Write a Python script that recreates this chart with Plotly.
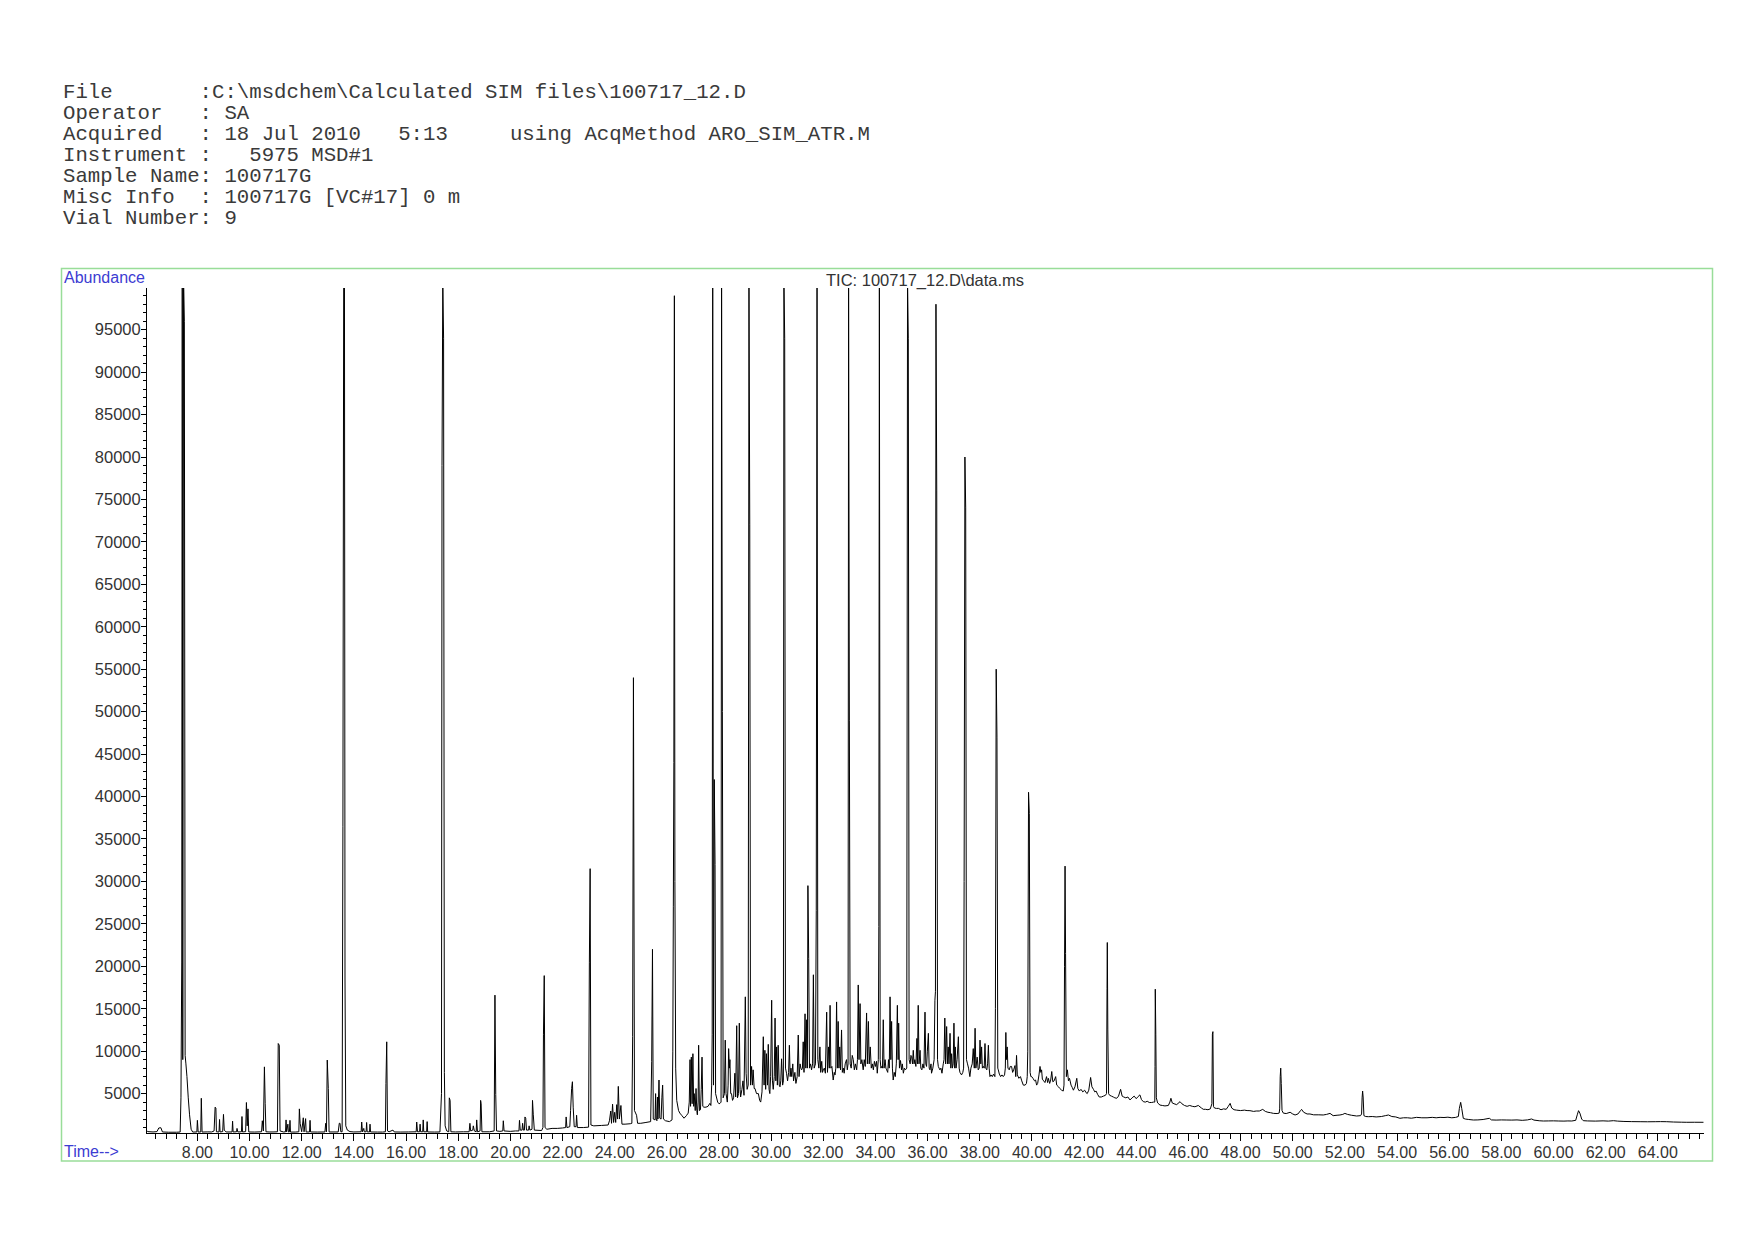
import plotly.graph_objects as go

# ---------------- data (retention time [min], abundance) ----------------
trace_early = [
    (6.05, 650), (6.10, 520), (6.30, 480), (6.45, 520), (6.52, 950), (6.60, 980), (6.66, 480),
    (6.90, 450), (7.20, 450), (7.34, 470), (7.37, 4500), (7.40, 20500), (7.42, 101000),
    (7.44, 9000), (7.47, 101000), (7.50, 96000), (7.53, 9500), (7.56, 8500), (7.60, 7000),
    (7.65, 4500), (7.70, 2500), (7.76, 800), (7.82, 470), (7.98, 480), (8.00, 1850), (8.03, 470),
    (8.13, 480), (8.15, 4450), (8.18, 470), (8.40, 490), (8.55, 480), (8.64, 600), (8.68, 3400),
    (8.71, 3300), (8.73, 500), (8.83, 480), (8.85, 1950), (8.87, 480), (8.97, 520), (9.00, 2550),
    (9.03, 700), (9.10, 480), (9.33, 480), (9.35, 1750), (9.37, 480), (9.50, 500), (9.52, 900),
    (9.55, 480), (9.69, 500), (9.71, 2300), (9.73, 480), (9.85, 520), (9.88, 3950), (9.91, 1200),
    (9.94, 3200), (9.97, 480), (10.20, 470), (10.46, 500), (10.49, 1800), (10.53, 600),
    (10.57, 8150), (10.60, 3800), (10.63, 500), (10.75, 480), (10.90, 480), (11.07, 500),
    (11.10, 10900), (11.14, 10700), (11.17, 600), (11.30, 480), (11.38, 500), (11.40, 1900),
    (11.42, 500), (11.47, 1400), (11.49, 480), (11.53, 500), (11.55, 1850), (11.57, 470),
    (11.75, 470), (11.89, 500), (11.91, 3200), (11.94, 1500), (12.00, 500), (12.06, 2150),
    (12.09, 500), (12.15, 2050), (12.17, 480), (12.30, 480), (12.32, 1850), (12.34, 480),
    (12.60, 470), (12.89, 480), (12.92, 1500), (12.95, 500), (12.98, 8950), (13.02, 5600),
    (13.05, 480), (13.40, 480), (13.44, 1500), (13.47, 1500), (13.50, 500), (13.55, 500),
    (13.58, 36500), (13.61, 101000), (13.64, 101000), (13.66, 18500), (13.69, 1200), (13.75, 700),
    (13.85, 520), (14.00, 480), (14.28, 500), (14.30, 1650), (14.33, 500), (14.38, 900),
    (14.40, 500), (14.47, 500), (14.49, 1600), (14.51, 500), (14.60, 480), (14.62, 1400),
    (14.64, 480), (14.90, 470), (15.10, 470), (15.21, 500), (15.23, 6200), (15.26, 11100),
    (15.29, 600), (15.35, 500), (15.50, 700), (15.55, 480), (15.80, 470), (16.10, 480),
    (16.39, 500), (16.41, 1650), (16.44, 500), (16.52, 500), (16.54, 1400), (16.56, 500),
    (16.64, 500), (16.66, 1900), (16.68, 500), (16.79, 500), (16.81, 1700), (16.83, 480),
    (17.10, 470), (17.30, 480), (17.36, 5000), (17.38, 79000), (17.41, 101000), (17.44, 94000),
    (17.47, 7500), (17.50, 1200), (17.56, 600), (17.64, 500), (17.66, 4500), (17.69, 4200),
    (17.72, 500), (17.90, 480), (18.20, 500), (18.42, 500), (18.45, 1500), (18.48, 600),
    (18.56, 700), (18.58, 1200), (18.62, 600), (18.69, 500), (18.71, 1900), (18.74, 500),
    (18.84, 600), (18.86, 4200), (18.88, 3800), (18.91, 500), (19.20, 500), (19.38, 600),
    (19.41, 16600), (19.44, 4900), (19.47, 600), (19.60, 550), (19.71, 600), (19.73, 1800),
    (19.76, 600), (20.00, 550), (20.20, 600), (20.33, 600), (20.35, 1850), (20.38, 700),
    (20.45, 700), (20.47, 1500), (20.50, 700), (20.54, 700), (20.56, 2250), (20.59, 2100),
    (20.62, 700), (20.70, 700), (20.72, 1200), (20.75, 700), (20.83, 800), (20.85, 4200),
    (20.88, 2500), (20.92, 700), (21.20, 650), (21.25, 1000), (21.27, 12000), (21.30, 18900),
    (21.33, 1000), (21.40, 800), (21.60, 900), (21.80, 900), (22.00, 950), (22.12, 1000),
    (22.14, 2250), (22.17, 1000), (22.28, 1100), (22.31, 3000), (22.35, 5600), (22.38, 6400),
    (22.41, 3400), (22.45, 1100), (22.52, 1100), (22.54, 2450), (22.57, 1000), (22.80, 1000),
    (23.00, 1050), (23.03, 20400), (23.06, 31500), (23.09, 1300), (23.20, 1200), (23.50, 1250),
    (23.75, 1300), (23.80, 1800), (23.85, 2950), (23.88, 1500), (23.92, 3750), (23.96, 1600),
    (24.00, 2800), (24.04, 1600), (24.08, 3700), (24.11, 2000), (24.14, 5850), (24.18, 2000),
    (24.24, 3600), (24.28, 1400), (24.40, 1400), (24.60, 1450), (24.66, 1500), (24.69, 11700),
    (24.72, 54000), (24.76, 3000), (24.84, 2450), (24.88, 1500),
]

trace_middle = [
    (25.00, 1500), (25.20, 1600), (25.38, 1700), (25.42, 8750), (25.45, 22000), (25.48, 2000),
    (25.55, 1900), (25.57, 5000), (25.59, 2000), (25.62, 1800), (25.64, 4600), (25.66, 2000),
    (25.70, 6600), (25.73, 2100), (25.78, 2000), (25.81, 4500), (25.84, 6000), (25.87, 2000),
    (25.95, 1800), (26.10, 1700), (26.20, 1900), (26.23, 10000), (26.25, 27000), (26.27, 44000),
    (26.29, 99000), (26.31, 30000), (26.34, 8000), (26.38, 4200), (26.45, 3000), (26.50, 2700),
    (26.58, 2400), (26.66, 2100), (26.75, 2400), (26.82, 2700), (26.86, 4000), (26.89, 9000),
    (26.91, 3500), (26.94, 9300), (26.97, 3800), (27.00, 9700), (27.03, 3500), (27.05, 5000),
    (27.09, 3000), (27.12, 5600), (27.15, 3000), (27.17, 2500), (27.20, 4000), (27.22, 10700),
    (27.25, 3000), (27.29, 3100), (27.32, 5500), (27.35, 9300), (27.38, 3500), (27.42, 3400),
    (27.50, 3400), (27.58, 3500), (27.65, 3850), (27.69, 3600), (27.72, 6000), (27.74, 12000),
    (27.76, 101000), (27.79, 6000), (27.82, 42000), (27.85, 32000), (27.87, 5000), (27.95, 4000),
    (28.00, 3800), (28.04, 3850), (28.08, 4000), (28.10, 101000), (28.13, 50000), (28.16, 4500),
    (28.21, 5000), (28.24, 11300), (28.27, 5000), (28.32, 4000), (28.35, 6000), (28.37, 10300),
    (28.40, 8000), (28.42, 9000), (28.45, 5000), (28.48, 5000), (28.52, 4200), (28.56, 4500),
    (28.61, 7400), (28.64, 4600), (28.68, 13000), (28.71, 4500), (28.75, 5000), (28.78, 13300),
    (28.81, 5500), (28.83, 4600), (28.88, 5500), (28.92, 6500), (28.96, 4800), (29.01, 16400),
    (29.04, 7400), (29.08, 5500), (29.12, 6000), (29.15, 101000), (29.18, 72000), (29.21, 6000),
    (29.25, 8200), (29.28, 6000), (29.31, 7800), (29.35, 5600), (29.38, 5600), (29.44, 5000),
    (29.51, 5000), (29.56, 4200), (29.60, 4000), (29.65, 5200), (29.70, 11700), (29.73, 6000),
    (29.76, 10100), (29.79, 5500), (29.82, 9700), (29.86, 6000), (29.89, 10800), (29.92, 5500),
    (29.95, 5000), (29.98, 7000), (30.02, 16000), (30.05, 6500), (30.08, 5500), (30.12, 7000),
    (30.15, 13900), (30.18, 6500), (30.21, 10500), (30.24, 6000), (30.27, 10700), (30.31, 6000),
    (30.34, 5800), (30.37, 6500), (30.40, 9100), (30.44, 6000), (30.47, 6500), (30.49, 101000),
    (30.52, 94000), (30.55, 8000), (30.59, 7400), (30.63, 6500), (30.67, 7500), (30.70, 10700),
    (30.73, 7000), (30.76, 8000), (30.79, 7000), (30.83, 8500), (30.86, 6500), (30.91, 7500),
    (30.95, 6200), (31.00, 7000), (31.04, 11900), (31.07, 7000), (31.11, 8500), (31.14, 8000),
    (31.17, 7800), (31.20, 8000), (31.23, 11100), (31.26, 7500), (31.30, 14400), (31.33, 8000),
    (31.36, 13700), (31.39, 8000), (31.41, 29500), (31.44, 20900), (31.47, 8000), (31.51, 8500),
    (31.55, 7800), (31.59, 8500), (31.62, 19000), (31.65, 8000), (31.70, 8500), (31.73, 26600),
    (31.76, 101000), (31.79, 9000), (31.83, 8000), (31.87, 10500), (31.90, 7500), (31.94, 8800),
    (31.97, 7500), (32.00, 7800), (32.04, 8000), (32.08, 7400), (32.13, 14600), (32.16, 7500),
    (32.20, 10500), (32.23, 8000), (32.26, 15400), (32.29, 8000), (32.33, 8200), (32.38, 6600),
    (32.42, 7500), (32.45, 7200), (32.48, 8000), (32.51, 15800), (32.54, 8000), (32.57, 13500),
    (32.60, 8000), (32.63, 10500), (32.66, 7800), (32.70, 12500), (32.73, 7500), (32.77, 8000),
    (32.80, 7400), (32.84, 8500), (32.89, 9000), (32.92, 7800), (32.95, 8500), (32.97, 101000),
    (33.00, 49000), (33.03, 8500), (33.07, 8000), (33.11, 9500), (33.15, 9000), (33.19, 7800),
    (33.23, 8500), (33.28, 7800), (33.31, 9000), (33.34, 17800), (33.37, 9000), (33.41, 15600),
    (33.44, 8500), (33.48, 9000), (33.53, 7800), (33.57, 9000), (33.61, 8200), (33.66, 14500),
    (33.69, 8500), (33.73, 13500), (33.76, 8500), (33.80, 10500), (33.84, 8000), (33.88, 8500),
    (33.92, 7800), (33.96, 8800), (34.00, 8200), (34.04, 8800), (34.07, 7400), (34.11, 9000),
    (34.13, 24700), (34.15, 101000), (34.18, 9000), (34.21, 8000), (34.24, 8200), (34.27, 8000),
    (34.30, 13700), (34.33, 8000), (34.37, 9000), (34.40, 8000), (34.43, 7800), (34.47, 7500),
    (34.50, 9000), (34.53, 8000), (34.56, 16400), (34.59, 9000), (34.62, 13500), (34.65, 8000),
    (34.68, 6600), (34.72, 7500), (34.76, 7000), (34.80, 8500), (34.84, 15400), (34.87, 9000),
    (34.89, 13300), (34.92, 8000), (34.96, 8900), (35.00, 7800), (35.03, 8500), (35.07, 7400),
    (35.11, 8000), (35.15, 7800), (35.20, 8000), (35.23, 101000), (35.26, 94000), (35.29, 9000),
    (35.33, 8500), (35.36, 9500), (35.39, 9350), (35.42, 8500), (35.45, 10100), (35.48, 8500),
    (35.51, 9000), (35.55, 8200), (35.59, 11500), (35.61, 8500), (35.64, 15400), (35.67, 8500),
    (35.71, 10100), (35.74, 8000), (35.78, 7800), (35.82, 8500), (35.86, 8000), (35.90, 14600),
    (35.93, 8500), (35.96, 8200), (35.99, 10000), (36.03, 12100), (36.06, 8000), (36.09, 7800),
    (36.13, 8500), (36.15, 7400), (36.20, 8000), (36.25, 9000), (36.28, 16000), (36.30, 17000),
    (36.32, 98000), (36.35, 76000), (36.38, 9000), (36.41, 8200), (36.44, 8000), (36.47, 7800),
    (36.51, 8000), (36.55, 7400), (36.60, 8500), (36.63, 9000), (36.66, 13900), (36.69, 8500),
    (36.73, 12900), (36.76, 8500), (36.79, 10500), (36.82, 8500), (36.86, 12100), (36.89, 8000),
    (36.92, 9700), (36.95, 8000), (36.98, 8500), (37.01, 13300), (37.04, 8000), (37.06, 10500),
    (37.09, 8000), (37.13, 9000), (37.18, 11700), (37.21, 8000), (37.24, 7500), (37.30, 7200),
    (37.35, 7500), (37.38, 8000), (37.40, 30000), (37.43, 80000), (37.46, 74000), (37.49, 9000),
    (37.53, 8500), (37.57, 8000), (37.62, 7000), (37.66, 8000), (37.71, 8500), (37.75, 10300),
    (37.79, 8000), (37.82, 12700), (37.85, 8000), (37.90, 9300), (37.94, 7800), (37.98, 8000),
    (38.01, 11300), (38.04, 8500), (38.07, 10500), (38.10, 8000), (38.14, 8200), (38.17, 8000),
    (38.20, 10900), (38.23, 8000), (38.27, 7800), (38.30, 8500), (38.33, 10700), (38.36, 8000),
    (38.39, 7000), (38.43, 7200), (38.48, 7000), (38.53, 7300), (38.58, 7000), (38.60, 15000),
    (38.63, 55000), (38.66, 47000), (38.69, 8000), (38.71, 7800), (38.75, 7300), (38.80, 7000),
    (38.85, 7200), (38.90, 7000), (38.95, 7200), (38.98, 8000), (39.00, 12200), (39.02, 9000),
    (39.05, 10500), (39.08, 8000), (39.13, 7800), (39.17, 8200), (39.22, 8200), (39.26, 7500),
    (39.30, 7800), (39.35, 8300), (39.38, 7000), (39.41, 9500), (39.44, 7200), (39.50, 6800),
    (39.56, 7000), (39.61, 6500), (39.67, 6000), (39.74, 6000), (39.79, 6200), (39.82, 7000),
    (39.84, 10000), (39.87, 40500), (39.90, 38000), (39.93, 7500), (39.96, 7000), (39.99, 7000),
    (40.04, 6800), (40.10, 6500), (40.14, 6600), (40.18, 6000), (40.22, 6200), (40.27, 7200),
    (40.31, 8200), (40.34, 7500), (40.37, 7800), (40.40, 6700), (40.45, 6500), (40.50, 6300),
    (40.56, 7000), (40.60, 6300), (40.63, 6800), (40.68, 6200), (40.72, 6600), (40.76, 7600),
    (40.80, 6400), (40.85, 6500), (40.91, 7000), (40.95, 6000), (41.02, 5800), (41.07, 5600),
    (41.14, 5400), (41.20, 5300),
]

trace_late = [
    (41.23, 6000), (41.25, 20000), (41.27, 31800), (41.29, 21500), (41.32, 7000), (41.36, 7800),
    (41.40, 6500), (41.44, 6800), (41.50, 6000), (41.55, 5700), (41.59, 5400), (41.65, 5800),
    (41.72, 6800), (41.76, 5600), (41.82, 5300), (41.88, 5500), (41.95, 5200), (42.02, 5400),
    (42.08, 5100), (42.12, 5000), (42.18, 5400), (42.25, 6900), (42.30, 5800), (42.36, 5500),
    (42.41, 5200), (42.46, 5300), (42.52, 4900), (42.58, 4600), (42.66, 4600), (42.74, 4700),
    (42.82, 4800), (42.86, 5000), (42.88, 17400), (42.89, 22800), (42.91, 12500), (42.94, 5000),
    (42.98, 4800), (43.05, 4700), (43.12, 4600), (43.18, 4500), (43.25, 4450), (43.32, 4700),
    (43.40, 5500), (43.46, 4700), (43.52, 4600), (43.60, 4500), (43.68, 4600), (43.76, 4250),
    (43.84, 4500), (43.92, 4700), (44.00, 4400), (44.07, 4650), (44.14, 4850), (44.20, 4300),
    (44.27, 4050), (44.35, 4000), (44.42, 4100), (44.50, 3950), (44.59, 3950), (44.66, 4000),
    (44.71, 4000), (44.72, 8200), (44.73, 17300), (44.75, 12000), (44.77, 4500), (44.82, 3900),
    (44.91, 3650), (45.00, 3600), (45.10, 3550), (45.23, 3600), (45.29, 4000), (45.33, 4450),
    (45.38, 3900), (45.45, 3800), (45.55, 3700), (45.68, 4050), (45.75, 3800), (45.85, 3600),
    (45.95, 3500), (46.05, 3600), (46.15, 3500), (46.25, 3450), (46.38, 3600), (46.50, 3300),
    (46.57, 3150), (46.65, 3150), (46.75, 3100), (46.84, 3200), (46.90, 3800), (46.92, 12000),
    (46.94, 12300), (46.96, 3500), (47.00, 3300), (47.08, 3250), (47.15, 3260), (47.25, 3100),
    (47.35, 3200), (47.45, 3150), (47.53, 3500), (47.60, 3850), (47.66, 3300), (47.75, 3100),
    (47.85, 3050), (48.00, 3000), (48.15, 3050), (48.25, 3000), (48.36, 2990), (48.50, 2900),
    (48.60, 2950), (48.72, 2950), (48.85, 3140), (48.95, 2900), (49.05, 2800), (49.15, 2750),
    (49.26, 2670), (49.40, 2650), (49.48, 2700), (49.50, 3200), (49.52, 7000), (49.54, 8000),
    (49.56, 6200), (49.59, 3000), (49.64, 2700), (49.75, 2650), (49.90, 2800), (50.00, 2600),
    (50.09, 2480), (50.20, 2600), (50.30, 3000), (50.34, 3140), (50.42, 2800), (50.55, 2600),
    (50.66, 2600), (50.80, 2500), (51.00, 2500), (51.17, 2480), (51.30, 2550), (51.43, 2670),
    (51.55, 2400), (51.70, 2450), (51.81, 2480), (51.92, 2550), (52.00, 2670), (52.10, 2550),
    (52.25, 2450), (52.45, 2360), (52.60, 2400), (52.64, 2600), (52.66, 4500), (52.68, 5300),
    (52.70, 4600), (52.73, 2400), (52.80, 2300), (52.90, 2280), (53.05, 2300), (53.20, 2250),
    (53.40, 2300), (53.55, 2400), (53.67, 2480), (53.80, 2300), (53.95, 2250), (54.11, 2090),
    (54.25, 2150), (54.40, 2150), (54.55, 2100), (54.75, 2200), (54.95, 2150), (55.15, 2150),
    (55.35, 2200), (55.50, 2150), (55.65, 2200), (55.80, 2180), (55.95, 2220), (56.10, 2150),
    (56.25, 2200), (56.35, 2300), (56.39, 3260), (56.44, 3970), (56.48, 3260), (56.54, 2090),
    (56.62, 2000), (56.75, 1950), (56.93, 1890), (57.10, 1900), (57.30, 1950), (57.54, 2090),
    (57.62, 1900), (57.80, 1880), (58.00, 1900), (58.21, 1890), (58.40, 1880), (58.60, 1900),
    (58.80, 1850), (59.00, 1900), (59.16, 2010), (59.25, 1880), (59.45, 1800), (59.61, 1770),
    (59.80, 1780), (60.00, 1790), (60.20, 1770), (60.40, 1760), (60.55, 1780), (60.70, 1770),
    (60.85, 1850), (60.91, 2500), (60.96, 2990), (61.01, 2700), (61.08, 2000), (61.14, 1810),
    (61.30, 1780), (61.60, 1760), (61.90, 1790), (62.10, 1760), (62.30, 1810), (62.45, 1760),
    (62.70, 1720), (63.00, 1700), (63.32, 1690), (63.60, 1680), (63.90, 1690), (64.10, 1700),
    (64.34, 1690), (64.60, 1650), (64.90, 1630), (65.11, 1620), (65.40, 1625), (65.75, 1620),
]

header_lines = [
    r"File       :C:\msdchem\Calculated SIM files\100717_12.D",
    r"Operator   : SA",
    r"Acquired   : 18 Jul 2010   5:13     using AcqMethod ARO_SIM_ATR.M",
    r"Instrument :   5975 MSD#1",
    r"Sample Name: 100717G",
    r"Misc Info  : 100717G [VC#17] 0 m",
    r"Vial Number: 9",
]
plot_title = r"TIC: 100717_12.D\data.ms"
y_label = "Abundance"
x_label = "Time-->"

x_range = [6.068, 65.77]
y_range = [358, 99910]

# ---------------- figure ----------------
points = trace_early + trace_middle + trace_late
times = [p[0] for p in points]
abund = [p[1] for p in points]

# the page body adds an 8 px margin; the figure is sized/offset to compensate
OFF = 8
W, H = 1754 - 2 * OFF, 1240 - 2 * OFF
L = 147 - OFF
T = 288 - OFF
R = W - (1704 - OFF)
B = H - (1133 - OFF)
PW = W - L - R
PH = H - T - B


def px(x_page):
    return (x_page - OFF - L) / PW


def py(y_page):
    return (H - B - (y_page - OFF)) / PH


fig = go.Figure()
fig.add_trace(go.Scatter(
    x=times, y=abund, mode="lines",
    line=dict(color="black", width=1, simplify=False),
    hoverinfo="skip", showlegend=False,
))

sans = "Liberation Sans, Arial, sans-serif"
mono = "Liberation Mono, Courier New, monospace"
blue = "#3c3cd2"

annotations = []
for i, line in enumerate(header_lines):
    annotations.append(dict(
        x=px(60.5), y=py(92.8 + i * 20.9), xref="paper", yref="paper",
        xanchor="left", yanchor="middle", showarrow=False,
        text=line.replace(" ", "\u00a0"),
        font=dict(family=mono, size=20.7, color="#3a3a3a"),
    ))
annotations.append(dict(
    x=px(61.5), y=py(278), xref="paper", yref="paper", xanchor="left", yanchor="middle",
    showarrow=False, text=y_label, font=dict(family=sans, size=16, color=blue)))
annotations.append(dict(
    x=px(61.5), y=py(1151), xref="paper", yref="paper", xanchor="left", yanchor="middle",
    showarrow=False, text=x_label, font=dict(family=sans, size=16, color=blue)))
annotations.append(dict(
    x=px(925), y=py(280), xref="paper", yref="paper", xanchor="center", yanchor="middle",
    showarrow=False, text=plot_title, font=dict(family=sans, size=16.5, color="#333333")))

fig.update_layout(
    width=W, height=H,
    margin=dict(l=L, r=R, t=T, b=B, pad=0),
    paper_bgcolor="white", plot_bgcolor="white",
    annotations=annotations,
    shapes=[dict(type="rect", xref="paper", yref="paper",
                 x0=px(61.5), x1=px(1712.5), y0=py(1161), y1=py(268.5),
                 line=dict(color="#99dd99", width=1.5), layer="below")],
    showlegend=False,
)
fig.update_xaxes(
    range=x_range, showline=True, linecolor="black", linewidth=1,
    ticks="outside", ticklen=7, tickwidth=1, tickcolor="black",
    tick0=0, dtick=2, tickformat=".2f", ticklabelstandoff=-2,
    tickfont=dict(family=sans, size=16, color="#333333"),
    showgrid=False, zeroline=False,
    minor=dict(ticks="outside", tick0=0, dtick=0.4, ticklen=5, tickcolor="black", showgrid=False),
)
fig.update_yaxes(
    range=y_range, showline=True, linecolor="black", linewidth=1,
    ticks="outside", ticklen=5, tickwidth=1, tickcolor="black",
    tick0=0, dtick=5000, tickformat="d", ticklabelstandoff=-3,
    tickfont=dict(family=sans, size=16.5, color="#333333"),
    showgrid=False, zeroline=False,
    minor=dict(ticks="outside", tick0=0, dtick=1000, ticklen=3, tickcolor="black", showgrid=False),
)

fig.write_html("out.html")
